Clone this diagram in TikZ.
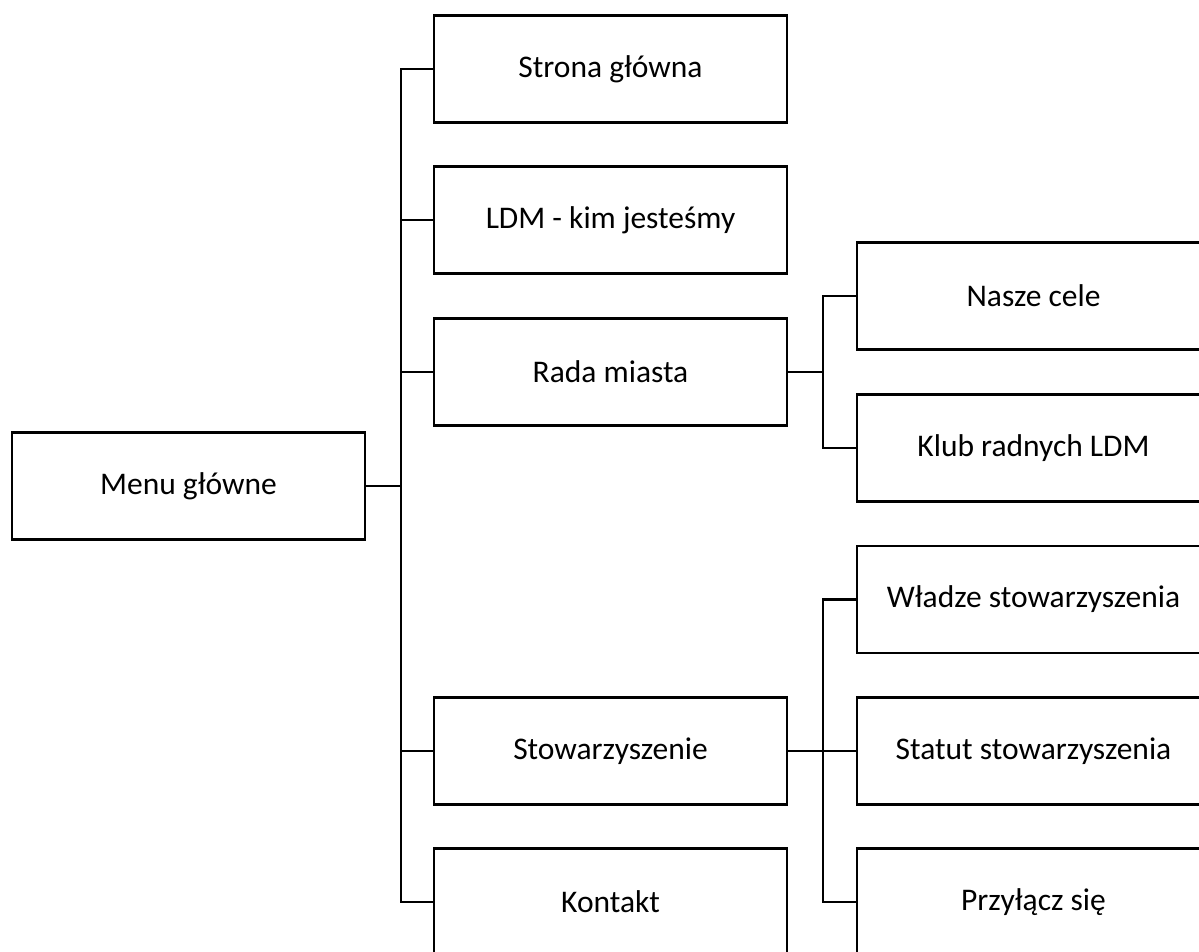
\documentclass[tikz,border=0pt]{standalone}
\usepackage{fontspec}
\setmainfont{Carlito}
\begin{document}
\begin{tikzpicture}[x=1pt,y=-1pt,
  box/.style={draw=black,line width=2.4pt,minimum width=353pt,minimum height=107pt,inner sep=0pt,font=\fontsize{31.5}{38}\selectfont},
  conn/.style={draw=black,line width=2.4pt}]
\useasboundingbox (0,0) rectangle (1199,952);
\clip (0,0) rectangle (1199,952);
\node[box] (menu) at (188.5,486) {Menu główne};
\node[box] (strona) at (610.5,69) {Strona główna};
\node[box] (ldm) at (610.5,220) {LDM - kim jesteśmy};
\node[box] (rada) at (610.5,372) {Rada miasta};
\node[box] (stow) at (610.5,751) {Stowarzyszenie};
\node[box] (kontakt) at (610.5,902) {Kontakt};
\node[box] (cele) at (1033.5,296) {Nasze cele};
\node[box] (klub) at (1033.5,448) {Klub radnych LDM};
\node[box] (wladze) at (1033.5,599.5) {Władze stowarzyszenia};
\node[box] (statut) at (1033.5,751) {Statut stowarzyszenia};
\node[box] (przylacz) at (1033.5,902) {Przyłącz się};
\foreach \c in {strona,ldm,rada,stow,kontakt}
  \draw[conn] (menu.east) -- ++(35,0) |- (\c.west);
\foreach \c in {cele,klub}
  \draw[conn] (rada.east) -- ++(35,0) |- (\c.west);
\foreach \c in {wladze,statut,przylacz}
  \draw[conn] (stow.east) -- ++(35,0) |- (\c.west);
\end{tikzpicture}
\end{document}
